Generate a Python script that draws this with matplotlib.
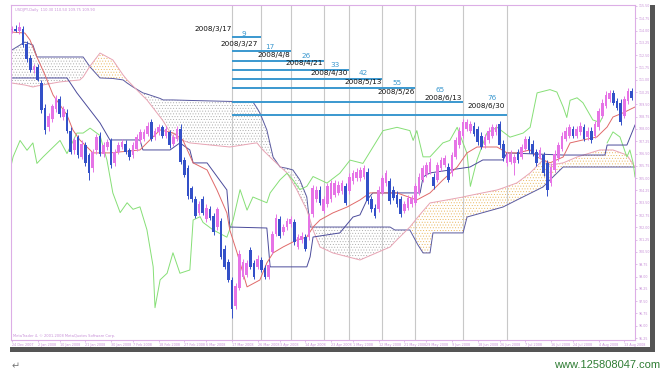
import matplotlib
matplotlib.use("Agg")
import matplotlib.pyplot as plt
from matplotlib.patches import Rectangle
import numpy as np

# USDJPY daily bars, 24 Dec 2007 .. 15 Aug 2008
opens = [114.05, 114.10, 113.95, 114.10, 113.20, 112.30, 111.60, 111.80, 110.80, 109.30,
         108.10, 108.60, 109.20, 109.80, 108.70, 109.00, 107.90, 106.70, 107.50, 106.30,
         107.00, 106.40, 105.60, 106.70, 107.60, 106.50, 106.90, 107.30, 105.90, 106.60,
         106.90, 107.10, 106.70, 106.40, 106.80, 107.30, 107.40, 107.70, 108.40, 107.50,
         107.80, 108.10, 107.60, 107.80, 107.10, 107.40, 108.00, 106.10, 105.60, 104.40,
         103.70, 102.90, 103.70, 102.50, 103.10, 102.70, 102.00, 102.40, 100.70, 99.90,
         98.80, 97.20, 98.30, 99.00, 99.10, 100.60, 99.80, 99.60, 100.00, 99.50,
         99.00, 100.50, 101.60, 102.50, 101.70, 102.00, 102.20, 102.30, 100.80, 101.20,
         101.40, 101.40, 102.80, 103.70, 104.30, 103.00, 103.40, 103.70, 104.00, 104.10,
         104.20, 104.50, 104.20, 104.80, 105.00, 105.00, 105.10, 105.40, 103.70, 103.20,
         103.10, 104.10, 104.70, 104.80, 104.30, 104.00, 103.70, 103.00, 103.20, 103.40,
         103.50, 104.10, 104.90, 105.20, 105.40, 105.10, 104.90, 105.60, 105.80, 105.70,
         105.30, 106.30, 107.00, 107.60, 108.00, 107.90, 108.20, 108.00, 107.60, 107.00,
         107.30, 107.60, 107.80, 108.30, 107.10, 105.90, 106.00, 105.90, 106.60, 106.30,
         106.80, 107.40, 107.10, 106.60, 106.30, 106.40, 105.90, 104.70, 105.50, 106.20,
         106.80, 107.40, 107.60, 108.00, 107.60, 107.80, 108.10, 107.50, 107.90, 107.60,
         108.10, 108.80, 109.40, 109.80, 110.20, 109.70, 109.60, 108.80, 109.70, 110.30]
highs = [114.30, 114.35, 114.55, 114.25, 113.35, 112.50, 111.95, 111.95, 111.00, 109.50,
         109.00, 109.55, 110.10, 110.00, 109.40, 109.20, 108.10, 107.50, 107.65, 107.30,
         107.20, 106.55, 106.80, 107.70, 107.80, 107.20, 107.40, 107.45, 106.80, 107.20,
         107.40, 107.30, 106.85, 107.20, 107.70, 108.00, 108.00, 108.40, 108.60, 108.05,
         108.30, 108.25, 108.20, 107.95, 107.70, 108.20, 108.30, 106.30, 105.80, 104.55,
         103.90, 103.60, 103.90, 103.40, 103.30, 102.90, 103.25, 102.60, 100.90, 100.10,
         99.00, 98.60, 100.60, 100.10, 100.00, 100.80, 100.00, 100.30, 100.20, 99.70,
         99.90, 101.80, 102.80, 102.70, 102.20, 102.60, 102.70, 102.50, 101.60, 101.70,
         101.60, 102.90, 104.60, 104.50, 104.50, 103.90, 104.70, 104.90, 104.90, 104.80,
         104.90, 104.70, 105.30, 105.50, 105.60, 105.70, 105.80, 105.60, 103.90, 103.40,
         104.50, 105.20, 105.50, 105.00, 104.50, 104.20, 103.90, 103.60, 104.00, 104.00,
         104.70, 105.30, 105.80, 106.00, 106.20, 105.30, 106.00, 106.30, 106.40, 105.90,
         106.60, 107.50, 108.10, 108.60, 108.60, 108.50, 108.40, 108.20, 107.80, 107.70,
         108.10, 108.30, 108.30, 108.50, 107.30, 106.60, 106.70, 106.50, 106.80, 107.10,
         107.60, 107.60, 107.30, 106.80, 106.90, 106.60, 106.10, 105.90, 106.70, 107.20,
         107.80, 108.10, 108.30, 108.20, 108.20, 108.40, 108.30, 108.10, 108.10, 108.50,
         109.30, 109.80, 110.30, 110.40, 110.40, 109.90, 109.80, 110.00, 110.50, 110.50]
lows = [113.85, 113.90, 113.80, 113.00, 112.10, 111.50, 111.40, 110.90, 108.95, 107.70,
        107.90, 108.45, 109.05, 108.75, 108.55, 107.75, 106.45, 106.50, 106.20, 106.15,
        105.75, 104.90, 105.40, 106.50, 106.35, 106.30, 106.70, 105.60, 105.75, 106.45,
        106.75, 106.45, 106.10, 106.20, 106.65, 107.15, 107.25, 107.55, 107.25, 107.35,
        107.65, 107.45, 107.45, 106.85, 106.95, 107.25, 105.85, 105.05, 103.75, 103.55,
        102.55, 102.75, 102.75, 102.35, 102.45, 101.55, 101.85, 100.05, 99.45, 98.65,
        96.50, 97.00, 98.15, 98.85, 98.95, 99.45, 98.85, 99.45, 99.25, 98.85,
        98.85, 100.35, 101.45, 101.35, 101.55, 101.85, 102.05, 100.95, 100.65, 101.05,
        100.55, 101.25, 102.65, 103.55, 103.35, 102.85, 103.25, 103.55, 103.85, 103.95,
        104.05, 103.35, 104.05, 104.65, 104.85, 104.85, 104.95, 103.45, 102.95, 102.55,
        102.95, 103.95, 104.55, 103.45, 103.65, 103.25, 102.65, 102.85, 103.05, 103.25,
        103.35, 103.95, 104.75, 105.05, 105.25, 104.35, 104.75, 105.45, 105.65, 104.75,
        105.15, 106.15, 106.85, 107.45, 107.85, 107.75, 107.55, 107.05, 106.75, 106.85,
        107.15, 107.45, 107.65, 106.85, 106.05, 105.75, 105.85, 105.20, 105.95, 106.15,
        106.65, 106.55, 106.35, 105.75, 106.15, 105.15, 103.90, 104.55, 105.35, 106.05,
        106.65, 107.25, 107.45, 107.45, 107.45, 107.65, 107.25, 107.35, 107.15, 107.45,
        107.95, 108.65, 109.25, 109.65, 109.45, 109.15, 108.25, 108.65, 109.55, 109.75]
closes = [114.10, 113.95, 114.20, 113.15, 112.25, 111.60, 111.80, 111.00, 109.15, 107.95,
          108.80, 109.40, 109.90, 108.90, 109.20, 107.90, 106.60, 107.30, 106.40, 107.10,
          105.90, 105.30, 106.60, 107.50, 106.50, 107.00, 107.20, 105.80, 106.60, 107.00,
          107.20, 106.60, 106.30, 107.00, 107.50, 107.80, 107.80, 108.20, 107.40, 107.90,
          108.10, 107.60, 108.00, 107.00, 107.50, 108.00, 106.00, 105.20, 103.90, 103.70,
          102.70, 103.40, 102.90, 103.20, 102.60, 101.70, 103.10, 100.20, 99.60, 98.80,
          97.00, 98.40, 100.40, 99.90, 99.80, 99.60, 99.00, 100.10, 99.40, 99.00,
          99.70, 101.60, 102.60, 101.50, 102.00, 102.40, 102.50, 101.10, 101.40, 101.50,
          100.70, 102.70, 104.40, 104.30, 103.50, 103.70, 104.50, 104.70, 104.70, 104.60,
          104.70, 103.50, 105.10, 105.30, 105.40, 105.50, 105.60, 103.60, 103.10, 102.70,
          104.30, 105.00, 105.30, 103.60, 103.80, 103.40, 102.80, 103.40, 103.80, 103.80,
          104.50, 105.10, 105.60, 105.80, 106.00, 104.50, 105.80, 106.10, 106.20, 104.90,
          106.40, 107.30, 107.90, 108.40, 108.40, 108.30, 107.70, 107.20, 106.90, 107.50,
          107.90, 108.10, 108.10, 107.00, 106.20, 106.40, 106.50, 106.30, 106.10, 106.90,
          107.40, 106.70, 106.50, 105.90, 106.70, 105.30, 104.30, 105.70, 106.50, 107.00,
          107.60, 107.90, 108.10, 107.60, 108.00, 108.20, 107.40, 107.90, 107.30, 108.30,
          109.10, 109.60, 110.10, 110.20, 109.60, 109.30, 108.40, 109.80, 110.30, 109.90]

# Ichimoku lines: (bar position, price)
tenkan_x = [0, 3.5, 4.9, 6.8, 9.0, 11.2, 13.1, 15.0, 16.6, 18.5, 22.1, 26.7, 34.9, 37.6,
            40.4, 43.9, 46.6, 49.4, 53.2, 55.9, 58.6, 59.4, 61.4, 64.1, 67.6, 69.5, 71.2,
            73.9, 77.7, 80.4, 82.1, 84.0, 87.5, 91.4, 94.9, 97.6, 105.0, 110.4, 114.0,
            117.5, 121.4, 124.1, 126.8, 132.3, 135.0, 137.7, 141.3, 143.2, 146.7, 150.3,
            152.2, 155.7, 159.5, 162.3, 163.9, 166.6, 169.9]
tenkan_y = [113.91, 113.85, 113.43, 112.39, 111.29, 110.07, 109.46, 108.85, 107.94, 107.33,
            106.54, 106.54, 106.72, 107.33, 107.94, 107.76, 107.33, 105.93, 105.50, 104.28,
            102.88, 101.84, 100.44, 98.37, 98.79, 99.83, 100.44, 100.80, 101.23, 101.41,
            102.02, 102.45, 102.88, 103.24, 103.67, 104.10, 104.10, 103.67, 104.10, 104.89,
            105.68, 106.54, 106.90, 106.90, 106.54, 106.54, 106.72, 106.29, 105.93, 106.29,
            107.15, 107.33, 107.51, 108.12, 108.73, 108.98, 109.34]

kijun_x = [0, 15.0, 17.7, 24.0, 26.7, 34.9, 35.7, 43.1, 45.8, 48.5, 49.4, 53.2, 58.6, 59.4,
           69.5, 70.4, 80.4, 81.3, 82.1, 89.4, 93.0, 94.9, 96.8, 98.4, 111.3, 112.1, 114.0,
           124.9, 128.4, 133.9, 135.0, 150.3, 161.7, 162.3, 167.7, 169.9]
kijun_y = [111.11, 111.11, 110.20, 108.37, 107.33, 107.33, 106.72, 106.72, 107.15, 106.72,
           105.93, 105.93, 104.28, 102.02, 101.96, 99.59, 99.59, 100.20, 101.41, 101.66,
           102.63, 102.76, 103.67, 104.10, 104.10, 105.07, 105.32, 105.68, 106.11, 106.11,
           106.54, 106.41, 106.41, 107.02, 107.02, 108.24]

cloud_x = [0, 3.5, 5.7, 6.8, 13.1, 18.5, 19.4, 21.3, 24.0, 27.5, 30.3, 31.4, 33.0, 35.7,
           36.8, 40.4, 41.2, 43.9, 48.5, 59.4, 65.7, 66.8, 67.6, 68.4, 69.5, 71.2, 73.1,
           75.0, 76.6, 77.7, 78.5, 80.4, 81.3, 82.1, 84.0, 87.5, 94.9, 103.1, 104.4, 108.5,
           110.7, 112.1, 114.0, 114.8, 123.0, 124.1, 132.3, 133.9, 137.7, 141.3, 144.8,
           146.7, 150.3, 154.1, 160.3, 163.9, 167.7, 169.9]
span_b = [112.82, 113.30, 113.12, 112.39, 112.39, 112.39, 112.39, 111.78, 111.11, 111.08,
          110.99, 110.80, 110.56, 110.20, 110.13, 109.86, 109.77, 109.77, 109.74, 109.68,
          109.65, 109.28, 108.98, 108.55, 107.94, 106.29, 105.68, 105.60, 105.50, 105.15,
          104.89, 103.85, 102.02, 102.02, 102.02, 102.02, 102.02, 102.02, 101.84, 101.84,
          100.93, 100.44, 100.44, 101.66, 101.66, 102.63, 103.14, 103.24, 103.67, 104.07,
          104.46, 104.89, 105.68, 105.68, 105.68, 105.68, 105.68, 105.68]
span_a = [110.80, 110.68, 110.56, 110.62, 110.87, 110.99, 111.17, 111.84, 112.63, 112.21,
          111.29, 110.99, 110.62, 110.01, 109.77, 108.73, 108.49, 107.51, 107.15, 106.90,
          107.12, 107.15, 106.93, 106.72, 106.48, 106.11, 105.71, 105.32, 104.71, 104.28,
          103.91, 103.06, 102.45, 101.84, 100.80, 100.44, 100.01, 100.80, 101.11, 102.02,
          102.63, 103.00, 103.49, 103.52, 103.85, 103.91, 104.28, 104.40, 104.71, 105.32,
          106.11, 105.80, 105.93, 106.29, 106.72, 106.72, 106.41, 105.68]

chikou_x = [-0.5, 0.3, 2.2, 4.1, 5.7, 6.8, 8.5, 13.1, 15.0, 17.7, 19.4, 21.3, 24.0, 25.9,
            27.5, 29.5, 31.4, 33.0, 34.9, 36.8, 38.5, 39.0, 40.4, 42.3, 43.9, 45.8, 48.5,
            49.4, 51.3, 52.1, 54.8, 58.6, 60.3, 62.2, 64.1, 65.7, 69.5, 70.4, 73.1, 75.0,
            76.6, 78.5, 80.4, 82.1, 85.9, 89.4, 92.2, 95.7, 101.2, 105.0, 108.5, 109.4,
            110.4, 112.1, 114.0, 117.5, 119.4, 121.4, 124.1, 125.0, 126.8, 129.5, 132.3,
            135.8, 139.4, 141.3, 143.2, 146.7, 148.6, 150.3, 151.3, 152.2, 154.1, 155.7,
            158.4, 160.3, 161.1]
chikou_y = [105.50, 106.30, 107.30, 106.70, 107.15, 105.90, 106.30, 107.30, 106.50, 107.75,
            107.75, 108.05, 107.60, 106.10, 104.10, 102.90, 103.50, 103.10, 103.25, 101.85,
            99.60, 97.10, 98.80, 99.20, 100.45, 99.20, 99.40, 102.45, 102.65, 102.30,
            101.85, 101.40, 102.45, 104.30, 103.05, 103.85, 103.50, 104.10, 104.90, 105.30,
            104.90, 104.30, 104.50, 105.10, 104.70, 105.30, 106.10, 105.90, 107.90, 108.10,
            107.90, 107.30, 107.90, 106.30, 106.30, 107.15, 107.30, 108.10, 106.50, 104.50,
            106.10, 107.75, 108.10, 107.50, 107.75, 108.10, 110.20, 110.40, 110.25, 109.35,
            108.70, 109.75, 109.90, 109.60, 108.55, 108.40, 108.75]
chikou2_x = [162.3, 163.9, 165.8, 167.7, 168.5, 169.4, 169.9]
chikou2_y = [107.15, 107.82, 107.51, 106.29, 106.72, 105.93, 105.07]

# Time-count study drawn on the chart
count_start = 60
count_end = [68, 76, 85, 92, 101, 110, 123, 135]
count_level = [113.59, 112.77, 112.16, 111.60, 111.05, 110.48, 109.66, 108.85]
count_text = ["9", "17", "26", "33", "42", "55", "65", "76"]
date_text = ["2008/3/17", "2008/3/27", "2008/4/8", "2008/4/21", "2008/4/30",
             "2008/5/13", "2008/5/26", "2008/6/13", "2008/6/30"]
vline_bars = [60, 68, 76, 85, 92, 101, 110, 123, 135]

# label placement (bar, price)
date_pos = [(60, 114.10), (67.1, 113.18), (75.8, 112.51), (84.8, 112.02), (91.6, 111.41),
            (100.9, 110.87), (109.9, 110.26), (122.7, 109.89), (134.4, 109.40)]
count_pos = [(63.3, 113.79), (70.4, 113.00), (80.2, 112.45), (88.1, 111.90), (95.7, 111.41),
             (105.0, 110.80), (116.7, 110.38), (130.9, 109.89)]

xtick_bars = [0, 7, 13, 20, 27, 33, 40, 47, 53, 60, 67, 73, 80, 87, 93, 100, 107, 113,
              120, 127, 133, 140, 147, 153, 160, 167]
xtick_labels = ["24 Dec 2007", "2 Jan 2008", "10 Jan 2008", "21 Jan 2008", "30 Jan 2008",
                "7 Feb 2008", "18 Feb 2008", "27 Feb 2008", "6 Mar 2008", "17 Mar 2008",
                "26 Mar 2008", "3 Apr 2008", "14 Apr 2008", "23 Apr 2008", "1 May 2008",
                "12 May 2008", "21 May 2008", "29 May 2008", "9 Jun 2008", "18 Jun 2008",
                "26 Jun 2008", "7 Jul 2008", "16 Jul 2008", "24 Jul 2008", "4 Aug 2008",
                "13 Aug 2008"]
ytick_labels = ["115.50", "114.75", "114.00", "113.25", "112.50", "111.75", "111.00",
                "110.25", "109.50", "108.75", "108.00", "107.25", "106.50", "105.75",
                "105.00", "104.25", "103.50", "102.75", "102.00", "101.25", "100.50",
                "99.75", "99.00", "98.25", "97.50", "96.75", "96.00", "95.25"]

MT_PINK = "#c890d8"

fig = plt.figure(figsize=(6.64, 3.8), dpi=100)
ax = fig.add_axes([11 / 664, 40 / 380, 624 / 664, 335 / 380])
ax.set_facecolor("white")

# cloud
b = np.array(span_b)
a = np.array(span_a)
plt.rcParams["hatch.linewidth"] = 0.35
ax.fill_between(cloud_x, b, a, where=b >= a, interpolate=True, facecolor="none",
                edgecolor="#a8a8a8", linewidth=0, hatch="......", zorder=1)
ax.fill_between(cloud_x, b, a, where=a > b, interpolate=True, facecolor="none",
                edgecolor="#e8b458", linewidth=0, hatch="......", zorder=1)
ax.plot(cloud_x, span_b, color="#5a5aa0", lw=0.7, zorder=2)
ax.plot(cloud_x, span_a, color="#e8a4b4", lw=0.7, zorder=2)

# vertical markers
for vb in vline_bars:
    ax.axvline(vb, color="#c8c8c8", lw=0.8, zorder=1.5)

ax.plot(chikou_x, chikou_y, color="#86df76", lw=0.7, zorder=2)
ax.plot(chikou2_x, chikou2_y, color="#86df76", lw=0.7, zorder=2)
ax.plot(kijun_x, kijun_y, color="#4b4b9b", lw=0.7, zorder=2)
ax.plot(tenkan_x, tenkan_y, color="#e06a6a", lw=0.7, zorder=2)

# candles
o = np.array(opens)
c = np.array(closes)
xs = np.arange(len(o))
cols = np.where(c >= o, "#e673e6", "#3350c8")
ax.vlines(xs, lows, highs, colors=cols, lw=0.7, zorder=3)
body = np.maximum(np.abs(c - o), 0.05)
ax.bar(xs, body, bottom=np.minimum(o, c), width=0.72, color=cols, linewidth=0, zorder=4)

# time-count lines and labels
for end, lvl in zip(count_end, count_level):
    ax.plot([count_start, end], [lvl, lvl], color="#3a98cf", lw=1.4, zorder=5,
            solid_capstyle="butt")
for (px, py), t in zip(date_pos, date_text):
    ax.text(px, py, t, fontsize=5.2, color="#111111", ha="right", va="center", zorder=6)
for (px, py), t in zip(count_pos, count_text):
    ax.text(px, py, t, fontsize=5.2, color="#3a98cf", ha="center", va="center", zorder=6)

ax.set_xlim(-0.27, 169.9)
ax.set_ylim(95.13, 115.56)

ax.yaxis.tick_right()
ax.set_yticks([float(v) for v in ytick_labels])
ax.set_yticklabels(ytick_labels)
ax.set_xticks(xtick_bars)
ax.set_xticklabels(xtick_labels, ha="left")
ax.tick_params(axis="y", labelsize=2.3, colors=MT_PINK, length=1.5, width=0.4, pad=1)
ax.tick_params(axis="x", labelsize=2.4, colors=MT_PINK, length=1.5, width=0.4, pad=0.8)
for sp in ax.spines.values():
    sp.set_color("#dcaee6")
    sp.set_linewidth(0.8)

ax.text(0.006, 0.992, "USDJPY,Daily  110.30 110.50 109.75 109.90", transform=ax.transAxes,
        fontsize=2.6, color=MT_PINK, ha="left", va="top")
ax.text(0.003, 0.006, "MetaTrader 4, \u00a9 2001-2008 MetaQuotes Software Corp.",
        transform=ax.transAxes, fontsize=2.6, color=MT_PINK, ha="left", va="bottom")

# window shadow
fig.add_artist(Rectangle((650 / 664, 28 / 380), 5 / 664, 347 / 380,
                         transform=fig.transFigure, color="#555555", lw=0))
fig.add_artist(Rectangle((10 / 664, 28 / 380), 645 / 664, 5 / 380,
                         transform=fig.transFigure, color="#555555", lw=0))

fig.text(12 / 664, 1 - 366 / 380, "\u21b5", fontsize=7, color="#777777",
         ha="left", va="center")
fig.text(660 / 664, 1 - 365 / 380, "www.125808047.com", fontsize=8,
         family="Liberation Sans", color="#2f7d34", ha="right", va="center")

fig.savefig("out.png", dpi=100)
